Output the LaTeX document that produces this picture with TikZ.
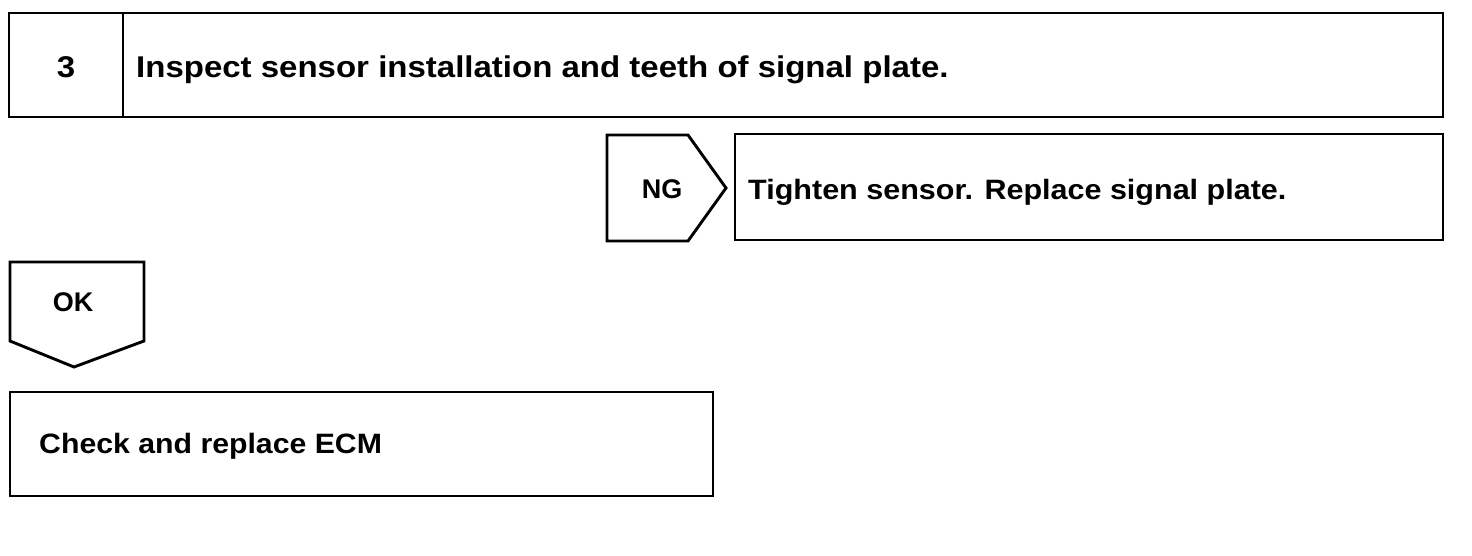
\documentclass[tikz,border=0pt]{standalone}
\usepackage{fontspec}
\setmainfont{Liberation Sans}
\newfontfamily\stretchA[FakeStretch=1.10]{Liberation Sans}
\newfontfamily\stretchB[FakeStretch=1.09]{Liberation Sans}
\newfontfamily\stretchC[FakeStretch=1.08]{Liberation Sans}
\begin{document}
\begin{tikzpicture}[x=1pt,y=-1pt,
  outline/.style={draw=black,line width=2.9pt,line join=miter},
  lbl/.style={inner sep=0pt,anchor=base},
  lblw/.style={inner sep=0pt,anchor=base west},
  big/.style={font=\stretchA\bfseries\fontsize{30}{34}\selectfont},
  mid/.style={font=\stretchB\bfseries\fontsize{28}{32}\selectfont},
  low/.style={font=\stretchC\bfseries\fontsize{28}{32}\selectfont},
  tag/.style={font=\bfseries\fontsize{27}{30}\selectfont}]
\useasboundingbox[fill=white] (0,0) rectangle (1472,556);
% step header
\draw[outline] (9,13) rectangle (1443,117);
\draw[outline] (123,13) -- (123,117);
\node[lbl,big] (num) at (66,78) {3};
\node[lblw,big] (title) at (136,78) {Inspect sensor installation and teeth of signal plate.};
% NG
\draw[outline] (607,135) -- (688,135) -- (726,188) -- (688,241) -- (607,241) -- cycle;
\node[lbl,tag] (ng) at (662,199) {NG};
\draw[outline] (735,134) rectangle (1443,240);
\node[lblw,mid] (fix) at (748,200) {Tighten sensor. Replace signal plate.};
% OK
\draw[outline] (10,262) -- (144,262) -- (144,341) -- (74,367) -- (10,341) -- cycle;
\node[lbl,tag] (ok) at (73,311) {OK};
\draw[outline] (10,392) rectangle (713,496);
\node[lblw,low] (ecm) at (39,453) {Check and replace ECM};
\end{tikzpicture}
\end{document}
